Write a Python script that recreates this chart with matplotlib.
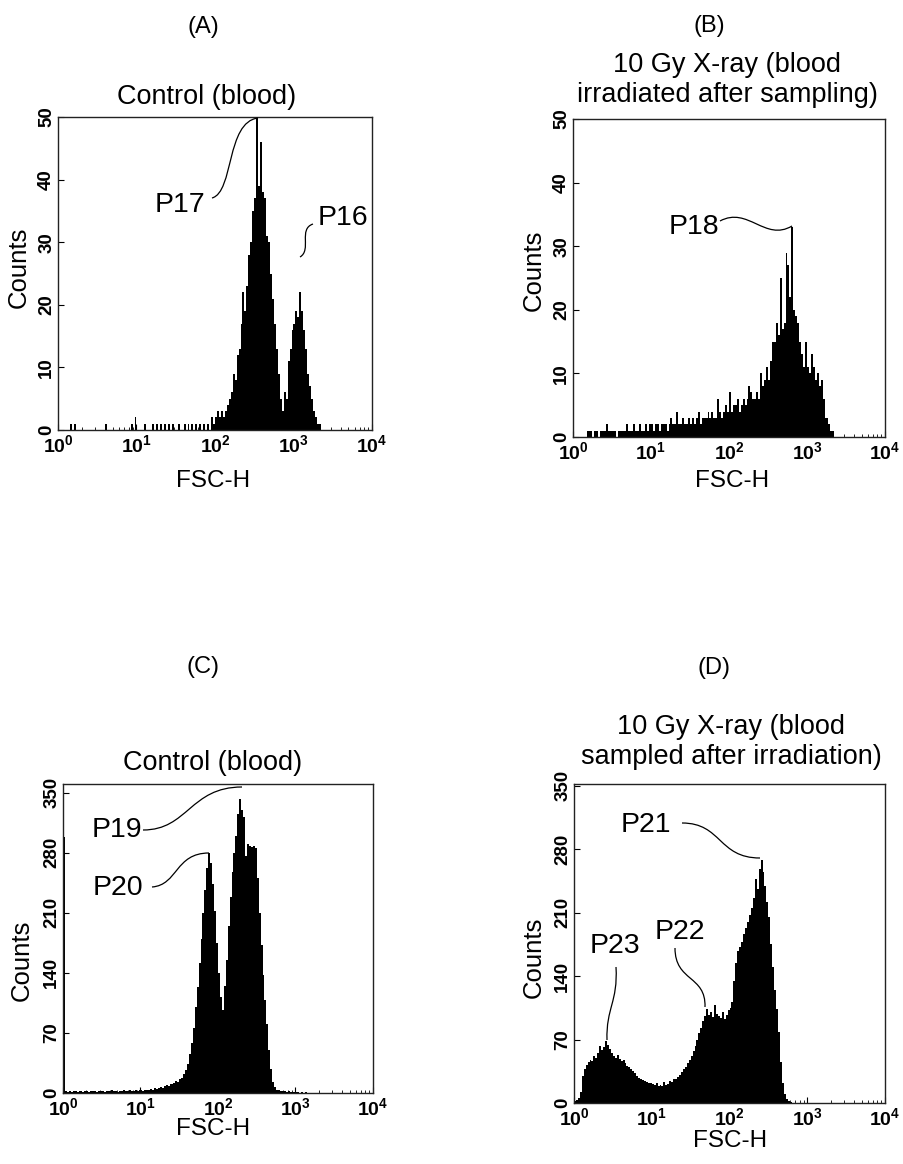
import numpy as np
import matplotlib
matplotlib.use("Agg")
import matplotlib.pyplot as plt
from matplotlib.path import Path
from matplotlib.patches import PathPatch
from matplotlib.transforms import Affine2D
from matplotlib.ticker import LogLocator, NullFormatter

W, H = 904, 1164
BINS_PER_DECADE = 40
DECADES = 4

# FSC-H histograms, 40 channels per decade from 10^0 to 10^4 (160 channels)
a_counts = [
    0, 0, 0, 0, 0, 0, 1, 0, 1, 0, 0, 0, 0, 0, 0, 0, 0, 0, 0, 0,
    0, 0, 0, 0, 1, 0, 0, 0, 0, 0, 0, 0, 0, 0, 0, 0, 0, 1, 0, 2,
    0, 0, 0, 0, 1, 0, 0, 0, 1, 0, 1, 0, 1, 0, 1, 0, 1, 0, 1, 0,
    0, 1, 0, 0, 1, 0, 1, 0, 1, 0, 1, 0, 1, 0, 1, 0, 1, 0, 2, 1,
    2, 3, 2, 3, 2, 3, 4, 5, 6, 9, 8, 12, 13, 17, 22, 19, 23, 28, 30, 35,
    37, 50, 39, 46, 38, 37, 31, 30, 25, 21, 17, 13, 9, 5, 3, 6, 5, 11, 13, 16,
    17, 19, 18, 22, 19, 16, 13, 9, 7, 5, 3, 2, 1, 1, 0, 0, 0, 0, 0, 0,
    0, 0, 0, 0, 0, 0, 0, 0, 0, 0, 0, 0, 0, 0, 0, 0, 0, 0, 0, 0,
]
b_counts = [
    0, 0, 0, 0, 0, 0, 0, 1, 1, 1, 0, 1, 1, 0, 1, 1, 1, 2, 1, 1,
    1, 1, 0, 1, 1, 1, 1, 2, 1, 1, 1, 2, 1, 1, 2, 1, 1, 2, 1, 2,
    2, 1, 2, 2, 1, 2, 2, 2, 1, 2, 3, 2, 2, 4, 2, 2, 3, 2, 2, 3,
    2, 3, 2, 3, 4, 2, 3, 3, 3, 4, 3, 4, 3, 3, 6, 4, 3, 4, 5, 4,
    7, 4, 5, 5, 6, 4, 5, 6, 5, 6, 8, 7, 6, 6, 7, 6, 10, 8, 9, 11,
    9, 12, 15, 15, 18, 16, 25, 17, 18, 29, 27, 22, 33, 20, 19, 18, 15, 13, 11, 15,
    11, 10, 13, 11, 9, 10, 8, 9, 6, 3, 3, 2, 1, 1, 0, 0, 0, 0, 0, 0,
    0, 0, 0, 0, 0, 0, 0, 0, 0, 0, 0, 0, 0, 0, 0, 0, 0, 0, 0, 0,
]
c_counts = [
    298, 2, 1, 2, 1, 2, 2, 1, 2, 2, 1, 2, 2, 1, 2, 2, 2, 1, 2, 2,
    2, 1, 2, 2, 2, 3, 2, 2, 1, 2, 2, 3, 2, 2, 3, 2, 2, 3, 2, 3,
    3, 2, 4, 3, 4, 5, 4, 6, 5, 6, 7, 6, 8, 9, 8, 10, 11, 12, 14, 13,
    16, 18, 22, 27, 34, 45, 58, 76, 100, 124, 152, 180, 210, 237, 262, 280, 268, 243, 212, 175,
    140, 112, 97, 125, 155, 195, 228, 258, 280, 300, 325, 343, 330, 322, 276, 290, 288, 287, 288, 285,
    250, 210, 172, 138, 108, 80, 50, 28, 13, 7, 4, 3, 2, 2, 2, 1, 2, 1, 1, 1,
    1, 1, 0, 1, 0, 1, 0, 0, 0, 0, 0, 0, 0, 0, 0, 0, 0, 0, 0, 0,
    0, 0, 0, 0, 0, 0, 0, 0, 0, 0, 0, 0, 0, 0, 0, 0, 0, 0, 0, 0,
]
d_counts = [
    2, 3, 5, 12, 30, 38, 42, 45, 48, 46, 52, 50, 55, 63, 58, 62, 68, 64, 60, 55,
    52, 50, 53, 49, 46, 47, 44, 41, 40, 37, 35, 33, 30, 28, 27, 25, 24, 23, 22, 22,
    21, 20, 22, 19, 20, 19, 23, 20, 21, 24, 23, 26, 27, 29, 31, 34, 37, 40, 44, 47,
    52, 57, 63, 70, 77, 83, 91, 96, 104, 97, 100, 95, 108, 98, 96, 94, 100, 93, 97, 103,
    105, 112, 135, 155, 168, 172, 178, 186, 193, 200, 207, 215, 226, 247, 236, 258, 268, 255, 240, 222,
    205, 175, 150, 125, 104, 78, 45, 22, 10, 4, 2, 1, 0, 0, 0, 0, 0, 0, 0, 0,
    0, 0, 0, 0, 0, 0, 0, 0, 0, 0, 0, 0, 0, 0, 0, 0, 0, 0, 0, 0,
    0, 0, 0, 0, 0, 0, 0, 0, 0, 0, 0, 0, 0, 0, 0, 0, 0, 0, 0, 0,
]

yticks_small = [0, 10, 20, 30, 40, 50]
yticks_large = [0, 70, 140, 210, 280, 350]
xtick_exps = [0, 1, 2, 3, 4]

panel_letters = ["(A)", "(B)", "(C)", "(D)"]
titles = [
    "Control (blood)",
    "10 Gy X-ray (blood\nirradiated after sampling)",
    "Control (blood)",
    "10 Gy X-ray (blood\nsampled after irradiation)",
]
peak_labels = [["P17", "P16"], ["P18"], ["P19", "P20"], ["P21", "P22", "P23"]]

plt.rcParams["font.family"] = ["Liberation Sans", "DejaVu Sans"]
plt.rcParams["mathtext.fontset"] = "custom"
plt.rcParams["mathtext.bf"] = "Liberation Sans:bold"
plt.rcParams["mathtext.rm"] = "Liberation Sans"

# layout in pixels (left, top, right, bottom)
boxes = [(58, 117, 372, 430), (573, 119, 885, 437),
         (63, 784, 373, 1093), (574, 784, 885, 1103)]
ylims = [50, 50, 360, 352]
letter_pos = [(203, 27), (709, 26), (203, 667), (714, 668)]
title_pos = [(207, 97), (727, 80), (213, 763), (731, 742)]
counts_pos = [(19, 267), (534, 270), (22, 960), (534, 957)]
fsc_pos = [(213, 481), (732, 481), (213, 1129), (730, 1141)]
# text centre, then bezier start/c1/c2/end of the leader line (pixels)
annots = [
    [((180, 205), [(212, 198), (234, 192), (226, 122), (258, 118)]),
     ((343, 218), [(313, 224), (298, 229), (312, 250), (300, 257)])],
    [((694, 227), [(720, 221), (748, 206), (765, 242), (792, 226)])],
    [((117, 830), [(143, 830), (188, 830), (190, 787), (242, 787)]),
     ((118, 888), [(152, 887), (178, 885), (175, 853), (209, 853)])],
    [((646, 825), [(682, 823), (722, 823), (718, 858), (760, 858)]),
     ((680, 932), [(675, 948), (675, 982), (706, 975), (705, 1007)]),
     ((615, 946), [(616, 967), (618, 1002), (606, 1008), (607, 1040)])],
]

all_counts = [a_counts, b_counts, c_counts, d_counts]
edges = np.logspace(0, DECADES, BINS_PER_DECADE * DECADES + 1)

fig = plt.figure(figsize=(W / 100, H / 100), dpi=100)
px = Affine2D().scale(1 / W, -1 / H).translate(0, 1) + fig.transFigure


def fpos(p):
    return p[0] / W, 1 - p[1] / H


for i in range(4):
    l, t, r, b = boxes[i]
    ax = fig.add_axes([l / W, 1 - b / H, (r - l) / W, (b - t) / H])
    ax.stairs(all_counts[i], edges, fill=True, color="black", lw=0)
    ax.set_xscale("log")
    ax.set_xlim(1, 10 ** DECADES)
    ax.set_ylim(0, ylims[i])

    ax.set_xticks([10.0 ** k for k in xtick_exps])
    ax.set_xticklabels([r"$\mathbf{10^{%d}}$" % k for k in xtick_exps])
    ax.xaxis.set_minor_locator(LogLocator(base=10, subs=np.arange(2, 10)))
    ax.xaxis.set_minor_formatter(NullFormatter())
    yt = yticks_small if ylims[i] == 50 else yticks_large
    ax.set_yticks(yt)
    ax.set_yticklabels([str(v) for v in yt], rotation=90, fontweight="bold",
                       va="center")
    ax.tick_params(axis="both", which="major", direction="in", length=4,
                   width=0.8, pad=3)
    ax.tick_params(axis="both", which="minor", direction="in", length=2,
                   width=0.6)
    ax.tick_params(axis="x", labelsize=14)
    ax.tick_params(axis="y", labelsize=13.5, pad=2)
    for s in ax.spines.values():
        s.set_linewidth(1.0)
        s.set_color("#222222")

    fig.text(*fpos(letter_pos[i]), panel_letters[i], fontsize=17,
             ha="center", va="center")
    fig.text(*fpos(title_pos[i]), titles[i], fontsize=19.5, ha="center",
             va="center", linespacing=1.15)
    fig.text(*fpos(counts_pos[i]), "Counts", fontsize=18.5, rotation=90,
             ha="center", va="center")
    fig.text(*fpos(fsc_pos[i]), "FSC-H", fontsize=17.5, ha="center",
             va="center")

    for name, (tp, pts) in zip(peak_labels[i], annots[i]):
        fig.text(*fpos(tp), name, fontsize=20.5, ha="center", va="center")
        path = Path(pts, [Path.MOVETO, Path.CURVE4, Path.CURVE4, Path.CURVE4])
        fig.patches.append(PathPatch(path, transform=px, fill=False,
                                     lw=0.9, color="black"))

fig.savefig("out.png", dpi=100)
